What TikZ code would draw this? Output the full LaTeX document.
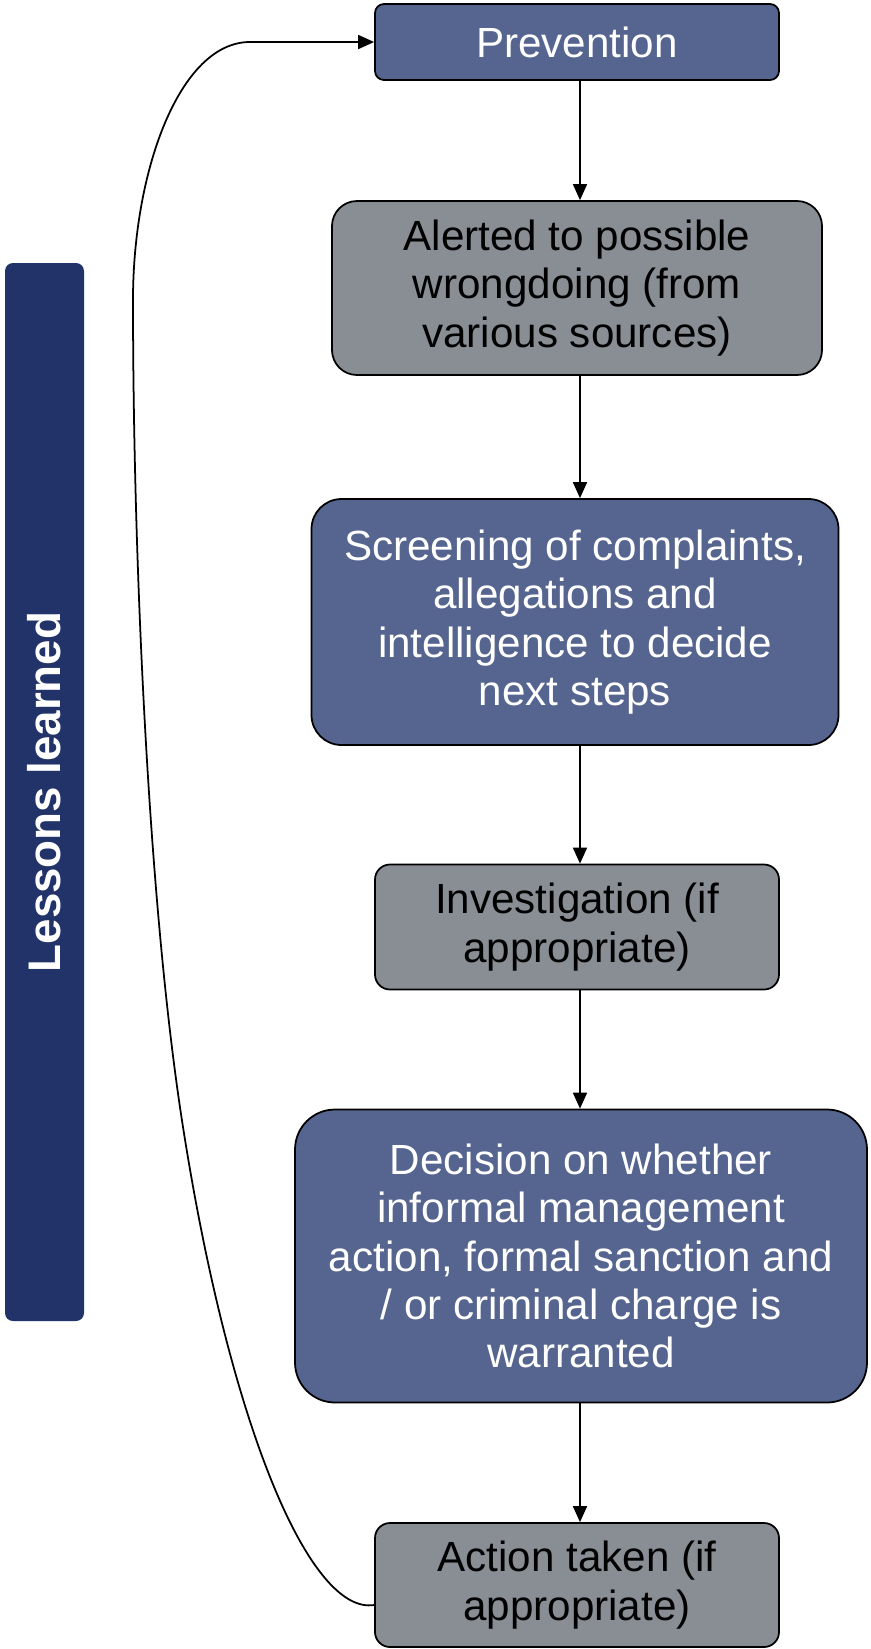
\documentclass[tikz,border=0pt]{standalone}
\usepackage{fontspec}
\setmainfont{Liberation Sans}
\usetikzlibrary{arrows.meta}
\definecolor{colorBlue}{HTML}{56658F}
\definecolor{colorGrey}{HTML}{898E95}
\definecolor{colorNavy}{HTML}{22336A}
\tikzset{
  every stage node/.style={
    draw=black,line width=0.5pt,align=center,inner sep=0pt,
    font=\fontsize{12}{13.75}\selectfont,
  },
  blue stage/.style={every stage node,fill=colorBlue,text=white},
  grey stage/.style={every stage node,fill=colorGrey,text=black},
  flow line/.style={draw,line width=0.5pt,-{Triangle[length=1.6mm,width=1.4mm]}},
}
\begin{document}
\begin{tikzpicture}[x=0.1mm,y=-0.1mm]
   \useasboundingbox (0,0) rectangle (870,1649);

   % NODES
   \node[blue stage,minimum width=40.4mm,minimum height=7.6mm,rounded corners=0.9mm] (prev) at (577,42) {Prevention};
   \node[grey stage,minimum width=49mm,minimum height=17.4mm,rounded corners=2.5mm] (alert) at (577,288) {Alerted to possible\\wrongdoing (from\\various sources)};
   \node[blue stage,minimum width=52.7mm,minimum height=24.6mm,rounded corners=3mm] (screen) at (575,622) {Screening of complaints,\\allegations and\\intelligence to decide\\next steps};
   \node[grey stage,minimum width=40.4mm,minimum height=12.5mm,rounded corners=1.5mm] (invest) at (577,927) {Investigation (if\\appropriate)};
   \node[blue stage,minimum width=57.2mm,minimum height=29.3mm,rounded corners=4mm] (decide) at (581,1256) {Decision on whether\\informal management\\action, formal sanction and\\/ or criminal charge is\\warranted};
   \node[grey stage,minimum width=40.4mm,minimum height=12.4mm,rounded corners=1.5mm] (action) at (577,1585) {Action taken (if\\appropriate)};
   \node[fill=colorNavy,text=white,rounded corners=0.8mm,rotate=90,inner sep=0pt,
         minimum width=105.8mm,minimum height=7.9mm,
         font=\bfseries\fontsize{13}{15}\selectfont] (lessons) at (44.5,792) {Lessons learned};
   \coordinate (axis) at (580,0);

   % DRAW FLOW
   \path[flow line] (axis |- prev.south) -- (axis |- alert.north);
   \path[flow line] (axis |- alert.south) -- (axis |- screen.north);
   \path[flow line] (axis |- screen.south) -- (axis |- invest.north);
   \path[flow line] (axis |- invest.south) -- (axis |- decide.north);
   \path[flow line] (axis |- decide.south) -- (axis |- action.north);

   % DRAW LOOP BACK
   \path[flow line] ([yshift=-2mm]action.west)
      .. controls (310,1615) and (230,1427) .. (183,1127)
      .. controls (148,905) and (133,550) .. (133,300)
      .. controls (133,170) and (180,42) .. (250,42) -- (prev.west);

\end{tikzpicture}
\end{document}
